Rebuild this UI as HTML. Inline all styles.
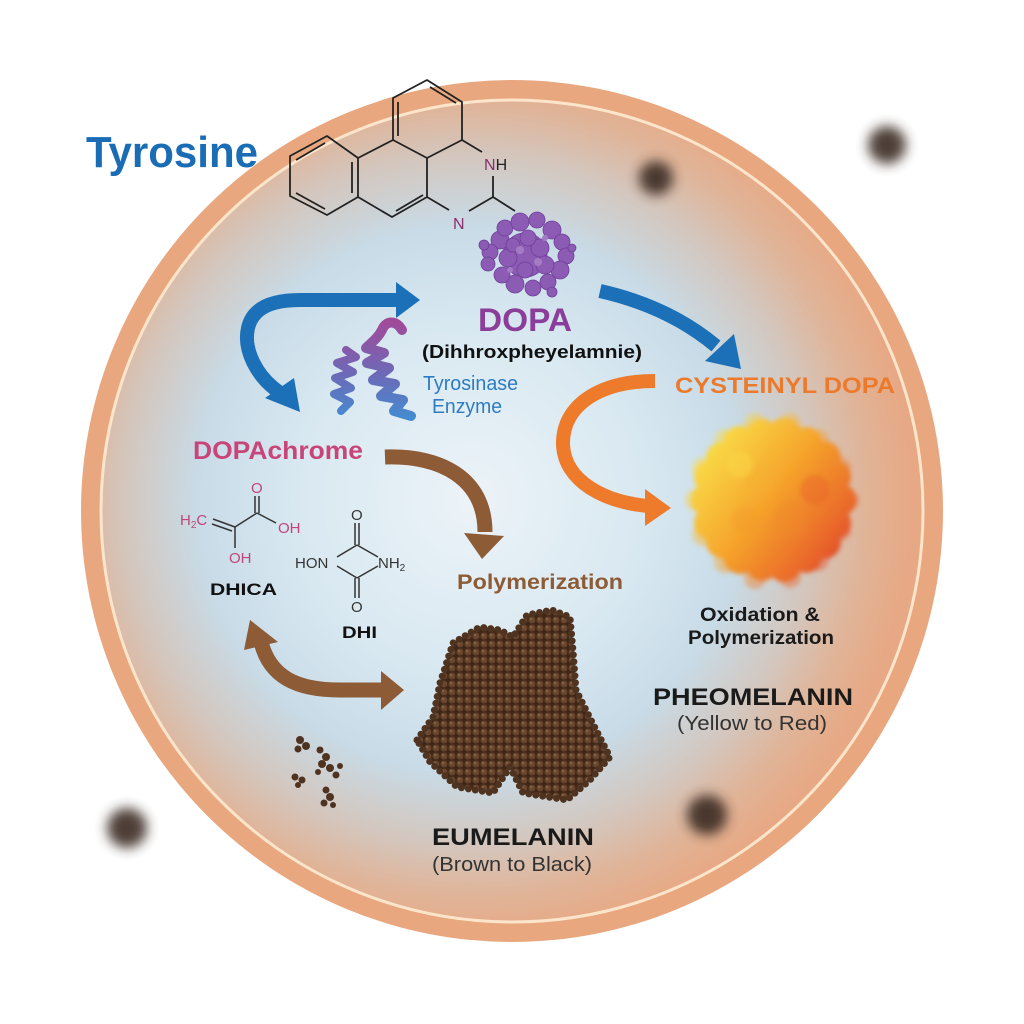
<!DOCTYPE html>
<html><head><meta charset="utf-8"><style>
html,body{margin:0;padding:0;background:#fff;}
svg{display:block;}
text{font-family:"Liberation Sans",Arial,sans-serif;}
</style></head><body>
<svg width="1024" height="1024" viewBox="0 0 1024 1024" xmlns="http://www.w3.org/2000/svg">
<defs>
<radialGradient id="disc" cx="470" cy="500" r="440" gradientUnits="userSpaceOnUse">
<stop offset="0" stop-color="#ecf3f8"/>
<stop offset="0.4" stop-color="#d8e8f1"/>
<stop offset="0.62" stop-color="#c8dbe7"/>
<stop offset="0.78" stop-color="#d3c7bf"/>
<stop offset="0.9" stop-color="#e0b498"/>
<stop offset="1" stop-color="#e7a985"/>
</radialGradient>
<linearGradient id="helix" x1="0" y1="320" x2="0" y2="430" gradientUnits="userSpaceOnUse">
<stop offset="0" stop-color="#a24a98"/>
<stop offset="0.5" stop-color="#6c6ab8"/>
<stop offset="1" stop-color="#3a94d6"/>
</linearGradient>
<linearGradient id="pheo" x1="700" y1="440" x2="855" y2="560" gradientUnits="userSpaceOnUse">
<stop offset="0" stop-color="#fae24a"/>
<stop offset="0.45" stop-color="#f6a52c"/>
<stop offset="0.8" stop-color="#ea6a2a"/>
<stop offset="1" stop-color="#dd3f2c"/>
</linearGradient>
<pattern id="dots" width="8" height="8" patternUnits="userSpaceOnUse">
<rect width="8" height="8" fill="#3e2716"/>
<circle cx="4" cy="4" r="3.4" fill="#6a4630"/>
<circle cx="3" cy="3" r="1.2" fill="#85603f"/>
</pattern>
<filter id="blur8" x="-50%" y="-50%" width="200%" height="200%"><feGaussianBlur stdDeviation="6"/></filter>
<filter id="blur3" x="-20%" y="-20%" width="140%" height="140%"><feGaussianBlur stdDeviation="2.5"/></filter>
</defs>

<rect width="1024" height="1024" fill="#ffffff"/>

<!-- main disc -->
<circle cx="512" cy="511" r="431" fill="#e8a77f"/>
<circle cx="512" cy="511" r="412" fill="url(#disc)"/>
<circle cx="512" cy="511" r="411" fill="none" stroke="#fde5cb" stroke-width="3"/>

<!-- blurry dark spots -->
<g filter="url(#blur8)" fill="#3a2c24" opacity="0.9">
<circle cx="127" cy="828" r="20"/>
<circle cx="707" cy="815" r="20"/>
<circle cx="656" cy="178" r="17"/>
<circle cx="887" cy="145" r="19"/>
</g>

<!-- Tyrosine -->
<text x="86" y="167" font-size="44" font-weight="bold" fill="#1a6db5" textLength="172" lengthAdjust="spacingAndGlyphs">Tyrosine</text>

<!-- chemical structure top -->
<g stroke="#222" stroke-width="1.8" fill="none" stroke-linejoin="round">
<polyline points="393,140 393,98 427,80 462,102 462,140"/>
<line x1="398" y1="102" x2="398" y2="136"/>
<line x1="430" y1="87" x2="456" y2="103"/>
<polygon points="327,136 358,158 358,197 327,215 290,196 290,156"/>
<line x1="296" y1="160" x2="325" y2="143"/>
<line x1="352" y1="162" x2="352" y2="193"/>
<line x1="296" y1="193" x2="325" y2="209"/>
<polyline points="358,158 393,140 427,158 427,197 392,217 358,197"/>
<line x1="396" y1="211" x2="423" y2="195"/>
<line x1="462" y1="140" x2="482" y2="152"/>
<line x1="493" y1="176" x2="493" y2="197"/>
<line x1="493" y1="197" x2="469" y2="211"/>
<line x1="427" y1="197" x2="449" y2="210"/>
<line x1="462" y1="140" x2="427" y2="158"/>
<line x1="493" y1="197" x2="515" y2="211"/>
</g>
<text x="484" y="170" font-size="16" fill="#8a2f6e">N<tspan fill="#222">H</tspan></text>
<text x="453" y="229" font-size="16" fill="#8a2f6e">N</text>

<!-- purple cluster -->
<g fill="#8c5bb3" stroke="#6f3f99" stroke-width="0.8">
<circle cx="525" cy="255" r="22"/>
<circle cx="500" cy="240" r="9"/><circle cx="490" cy="252" r="8"/><circle cx="488" cy="264" r="7"/>
<circle cx="505" cy="228" r="8"/><circle cx="520" cy="222" r="9"/><circle cx="537" cy="220" r="8"/>
<circle cx="552" cy="230" r="9"/><circle cx="562" cy="242" r="8"/><circle cx="566" cy="256" r="8"/>
<circle cx="560" cy="270" r="9"/><circle cx="548" cy="282" r="8"/><circle cx="533" cy="288" r="8"/>
<circle cx="515" cy="284" r="9"/><circle cx="502" cy="275" r="8"/><circle cx="508" cy="258" r="9"/>
<circle cx="540" cy="248" r="9"/><circle cx="528" cy="238" r="8"/><circle cx="545" cy="265" r="9"/>
<circle cx="525" cy="270" r="8"/><circle cx="513" cy="245" r="7"/><circle cx="552" cy="292" r="5"/>
<circle cx="484" cy="245" r="5"/><circle cx="572" cy="248" r="4"/>
</g>
<g fill="#a47cc6"><circle cx="520" cy="250" r="4"/><circle cx="538" cy="262" r="4"/><circle cx="510" cy="270" r="3"/><circle cx="545" cy="238" r="3"/></g>

<!-- DOPA -->
<text x="478" y="331" font-size="32" font-weight="bold" fill="#8b3d9a" textLength="94" lengthAdjust="spacingAndGlyphs">DOPA</text>
<text x="422" y="358" font-size="18" font-weight="bold" fill="#111" textLength="220" lengthAdjust="spacingAndGlyphs">(Dihhroxpheyelamnie)</text>

<!-- helix -->
<g fill="none" stroke="url(#helix)" stroke-linejoin="round" stroke-linecap="round">
<path d="M402 330 C396 320 386 320 382 330 C378 338 372 342 366 348 L384 353 L367 363 L389 368 L373 380 L395 384 L381 396 L403 400 L394 411 L411 416" stroke-width="10"/>
<path d="M346 350 L356 357 L337 363 L353 372 L335 378 L351 388 L334 394 L350 402 L341 411" stroke-width="8"/>
</g>
<text x="423" y="390" font-size="20" fill="#2c7cc1" textLength="95" lengthAdjust="spacingAndGlyphs">Tyrosinase</text>
<text x="432" y="413" font-size="20" fill="#2c7cc1" textLength="70" lengthAdjust="spacingAndGlyphs">Enzyme</text>

<!-- blue arrows -->
<g fill="none" stroke="#1b70b7" stroke-width="14">
<path d="M279 392 C257 377 243 350 248 328 C253 306 275 300 300 300 L398 300"/>
<path d="M600 291 C640 300 680 316 716 346"/>
</g>
<g fill="#1b70b7">
<polygon points="396,282 420,300 396,318"/>
<polygon points="265,398 294,378 300,412"/>
<polygon points="705,361 734,334 741,369"/>
</g>

<!-- CYSTEINYL DOPA -->
<text x="675" y="393" font-size="22" font-weight="bold" fill="#ec7a2c" textLength="220" lengthAdjust="spacingAndGlyphs">CYSTEINYL DOPA</text>

<!-- orange arrow -->
<path d="M655 381 C600 381 562 405 563 445 C565 482 605 502 648 506" fill="none" stroke="#ee7b2c" stroke-width="14"/>
<polygon points="645,489 671,508 645,526" fill="#ee7b2c"/>

<!-- pheomelanin blob -->
<g filter="url(#blur3)">
<g fill="url(#pheo)" opacity="0.45">
<circle cx="848" cy="500" r="11"/><circle cx="840" cy="530" r="11"/><circle cx="818" cy="560" r="11"/>
<circle cx="790" cy="577" r="11"/><circle cx="755" cy="578" r="11"/><circle cx="725" cy="562" r="11"/>
<circle cx="703" cy="535" r="11"/><circle cx="696" cy="500" r="11"/><circle cx="703" cy="468" r="11"/>
<circle cx="725" cy="440" r="11"/><circle cx="755" cy="424" r="11"/><circle cx="790" cy="424" r="11"/>
<circle cx="818" cy="440" r="11"/><circle cx="840" cy="468" r="11"/>
</g>
<g fill="url(#pheo)">
<circle cx="773" cy="500" r="70"/>
<circle cx="839" cy="500" r="17"/><circle cx="835" cy="523" r="16"/><circle cx="824" cy="542" r="17"/>
<circle cx="806" cy="557" r="16"/><circle cx="784" cy="565" r="17"/><circle cx="762" cy="565" r="16"/>
<circle cx="740" cy="557" r="17"/><circle cx="722" cy="542" r="16"/><circle cx="711" cy="523" r="17"/>
<circle cx="707" cy="500" r="16"/><circle cx="711" cy="477" r="17"/><circle cx="722" cy="458" r="16"/>
<circle cx="740" cy="443" r="17"/><circle cx="762" cy="435" r="16"/><circle cx="784" cy="435" r="17"/>
<circle cx="806" cy="443" r="16"/><circle cx="824" cy="458" r="17"/><circle cx="835" cy="477" r="16"/>
</g>
<g opacity="0.35">
<circle cx="790" cy="520" r="18" fill="#f08a2a"/><circle cx="760" cy="480" r="14" fill="#f5b030"/>
<circle cx="815" cy="490" r="15" fill="#e85a28"/><circle cx="745" cy="520" r="14" fill="#f29a2c"/>
<circle cx="740" cy="465" r="13" fill="#fbe14c"/>
</g>
</g>

<text x="700" y="621" font-size="19" font-weight="bold" fill="#1a1a1a" textLength="120" lengthAdjust="spacingAndGlyphs">Oxidation &amp;</text>
<text x="688" y="644" font-size="19" font-weight="bold" fill="#1a1a1a" textLength="146" lengthAdjust="spacingAndGlyphs">Polymerization</text>
<text x="653" y="705" font-size="24" font-weight="bold" fill="#1a1a1a" textLength="200" lengthAdjust="spacingAndGlyphs">PHEOMELANIN</text>
<text x="677" y="730" font-size="20" fill="#333" textLength="150" lengthAdjust="spacingAndGlyphs">(Yellow to Red)</text>

<!-- DOPAchrome -->
<text x="193" y="459" font-size="25" font-weight="bold" fill="#c8457a" textLength="170" lengthAdjust="spacingAndGlyphs">DOPAchrome</text>

<!-- brown arrows -->
<g fill="none" stroke="#8d5b36" stroke-width="15">
<path d="M385 457 C440 455 485 478 485 532"/>
<path d="M261 642 C270 678 298 690 340 690 L384 690"/>
</g>
<g fill="#8d5b36">
<polygon points="464,533 482,559 504,536"/>
<polygon points="381,671 404,690 381,710"/>
<polygon points="244,650 250,620 278,642"/>
</g>
<text x="457" y="589" font-size="21" font-weight="bold" fill="#8d5b36" textLength="166" lengthAdjust="spacingAndGlyphs">Polymerization</text>

<!-- DHICA structure -->
<g stroke="#333" stroke-width="1.5" fill="none">
<line x1="213" y1="519" x2="235" y2="527"/>
<line x1="212" y1="524" x2="232" y2="531"/>
<line x1="235" y1="527" x2="235" y2="548"/>
<line x1="235" y1="527" x2="257" y2="513"/>
<line x1="255" y1="513" x2="255" y2="496"/>
<line x1="259" y1="513" x2="259" y2="496"/>
<line x1="257" y1="513" x2="276" y2="523"/>
</g>
<g fill="#c0457a" font-size="15">
<text x="180" y="525">H<tspan font-size="10" dy="3">2</tspan><tspan dy="-3">C</tspan></text>
<text x="229" y="563">OH</text>
<text x="251" y="493">O</text>
<text x="278" y="533">OH</text>
</g>
<text x="210" y="595" font-size="17" font-weight="bold" fill="#111" textLength="67" lengthAdjust="spacingAndGlyphs">DHICA</text>

<!-- DHI structure -->
<g stroke="#333" stroke-width="1.5" fill="none">
<line x1="355" y1="523" x2="355" y2="545"/>
<line x1="359" y1="523" x2="359" y2="545"/>
<line x1="357" y1="545" x2="337" y2="557"/>
<line x1="357" y1="545" x2="378" y2="557"/>
<line x1="337" y1="566" x2="357" y2="578"/>
<line x1="378" y1="566" x2="357" y2="578"/>
<line x1="355" y1="578" x2="355" y2="598"/>
<line x1="359" y1="578" x2="359" y2="598"/>
</g>
<g fill="#333" font-size="15">
<text x="351" y="520">O</text>
<text x="295" y="568">HON</text>
<text x="378" y="568">NH<tspan font-size="10" dy="3">2</tspan></text>
<text x="351" y="612">O</text>
</g>
<text x="342" y="638" font-size="17" font-weight="bold" fill="#111" textLength="35" lengthAdjust="spacingAndGlyphs">DHI</text>

<!-- eumelanin -->
<polygon points="417,740 433,717 440,683 453,643 480,627 500,630 513,637 527,615 552,610 570,617 573,650 576,690 592,722 610,757 590,780 567,800 523,793 510,767 493,793 457,787 430,762" fill="url(#dots)" stroke="#4f3321" stroke-width="7" stroke-dasharray="0 7" stroke-linecap="round" stroke-linejoin="round"/>

<!-- small clusters -->
<g fill="#4f3321">
<circle cx="300" cy="740" r="4"/><circle cx="306" cy="746" r="4"/><circle cx="298" cy="749" r="3.5"/>
<circle cx="320" cy="750" r="3.5"/><circle cx="326" cy="757" r="4"/><circle cx="322" cy="764" r="4"/><circle cx="330" cy="768" r="4"/><circle cx="336" cy="775" r="3.5"/><circle cx="318" cy="772" r="3"/><circle cx="340" cy="766" r="3"/>
<circle cx="295" cy="777" r="3.5"/><circle cx="302" cy="780" r="3.5"/><circle cx="298" cy="785" r="3"/>
<circle cx="326" cy="790" r="3.5"/><circle cx="330" cy="797" r="4"/><circle cx="324" cy="803" r="3.5"/><circle cx="333" cy="805" r="3"/>
</g>

<text x="432" y="845" font-size="24" font-weight="bold" fill="#1a1a1a" textLength="162" lengthAdjust="spacingAndGlyphs">EUMELANIN</text>
<text x="432" y="871" font-size="20" fill="#333" textLength="160" lengthAdjust="spacingAndGlyphs">(Brown to Black)</text>
</svg>
</body></html>
